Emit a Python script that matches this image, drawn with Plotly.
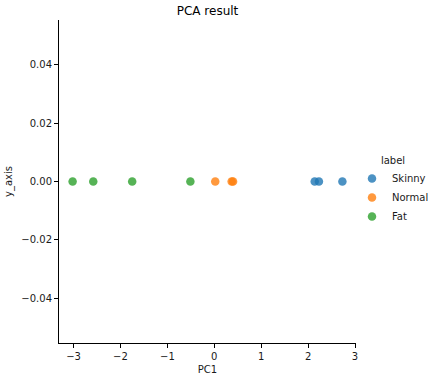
import plotly.graph_objects as go

labels = ["Skinny", "Normal", "Fat"]
colors = ["#1f77b4", "#ff7f0e", "#2ca02c"]
pc1_skinny = [2.14, 2.23, 2.73]
pc1_normal = [0.02, 0.37, 0.40]
pc1_fat = [-3.02, -2.58, -1.75, -0.51]
series = [pc1_skinny, pc1_normal, pc1_fat]

x_ticks = [-3, -2, -1, 0, 1, 2, 3]
y_ticks = [-0.04, -0.02, 0.0, 0.02, 0.04]

def fmt_minus(s):
    return s.replace("-", "\u2212")

fig = go.Figure()
for name, col, xs in zip(labels, colors, series):
    fig.add_trace(go.Scatter(
        x=xs, y=[0.0] * len(xs), mode="markers", name=name,
        marker=dict(color=col, size=8.5, opacity=0.8, line=dict(width=0)),
    ))

font = dict(family="DejaVu Sans", size=10, color="#1a1a1a")
fig.update_layout(
    width=431, height=377,
    margin=dict(l=59, r=75, t=20, b=34, autoexpand=False),
    paper_bgcolor="white", plot_bgcolor="white",
    font=font,
    title=dict(text="PCA result", x=207.5 / 431, xanchor="center", xref="container",
               y=1 - 11 / 377, yref="container", yanchor="middle",
               font=dict(family="DejaVu Sans", size=12, color="black")),
    legend=dict(title=dict(text="label", font=font, side="top center"),
                xref="container", x=352 / 431,
                xanchor="left", yref="container", y=1 - 191 / 377, yanchor="middle",
                font=font, bgcolor="rgba(0,0,0,0)", tracegroupgap=0),
    xaxis=dict(range=[-3.31, 3.02], tickvals=x_ticks,
               ticktext=[fmt_minus(str(v)) for v in x_ticks], automargin=False,
               showgrid=False, zeroline=False, showline=True, linecolor="black",
               linewidth=1, ticks="outside", ticklen=4, tickcolor="black",
               title=dict(text="PC1", font=font, standoff=4)),
    yaxis=dict(range=[-0.0553, 0.0553], tickvals=y_ticks,
               ticktext=[fmt_minus(f"{v:.2f}") for v in y_ticks], automargin=False,
               showgrid=False, zeroline=False, showline=True, linecolor="black",
               linewidth=1, ticks="outside", ticklen=4, tickcolor="black",
               title=dict(text="y_axis", font=font, standoff=6)),
)
fig.write_html("out.html", config={"displayModeBar": False},
               post_script="document.body.style.margin='0';")
